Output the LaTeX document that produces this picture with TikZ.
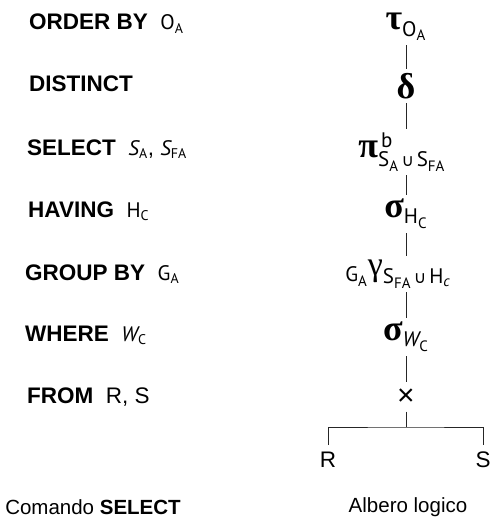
\documentclass[tikz,border=0pt]{standalone}
\usepackage{amsmath}
\usepackage{fontspec}
\setmainfont{Liberation Sans}
\newfontfamily\mf{PT Sans}
\newfontfamily\gkf{Liberation Serif}
\newfontfamily\djv{DejaVu Sans}
\newcommand\gk[1]{\text{\fontsize{36}{36}\selectfont\gkf\bfseries #1}}
\newcommand\gr[1]{\text{\fontsize{34}{34}\selectfont\gkf #1}}
\newcommand\sa[1]{\text{\fontsize{21}{21}\selectfont\mf #1}}
\newcommand\sbb[1]{\text{\fontsize{15}{15}\selectfont\mf #1}}
\newcommand\la[1]{\text{\fontsize{21}{21}\selectfont\mf #1}}
\newcommand\lb[1]{\text{\fontsize{14}{14}\selectfont\mf #1}}
\newcommand\un{\text{\fontsize{17}{17}\selectfont\djv ∪}}
\tikzset{
  lab/.style={anchor=base west, inner sep=0pt, font=\fontsize{22.5}{24}\selectfont\bfseries},
  op/.style={inner sep=2pt, font=\fontsize{24}{24}\selectfont},
  rel/.style={inner sep=4pt, font=\fontsize{22.5}{24}\selectfont},
  captxt/.style={inner sep=0pt, font=\fontsize{20.5}{22}\selectfont},
  conn/.style={line width=0.9pt, black!85, shorten <=2pt, shorten >=2pt}
}
\begin{document}
\begin{tikzpicture}[x=1pt,y=1pt]
\useasboundingbox (0,0) rectangle (496,-524);
% left column
\node[lab] (l1) at (29,-30) {ORDER BY\ \ {\mdseries$\la{O}_{\lb{A}}$}};
\node[lab] (l2) at (29,-92) {DISTINCT};
\node[lab] (l3) at (27,-155) {SELECT\ \ {\mdseries$\la{\itshape S}_{\lb{A}}$, $\la{\itshape S}_{\lb{FA}}$}};
\node[lab] (l4) at (28,-217) {HAVING\ \ {\mdseries$\la{H}_{\lb{C}}$}};
\node[lab] (l5) at (25,-280) {GROUP BY\ \ {\mdseries$\la{G}_{\lb{A}}$}};
\node[lab] (l6) at (25,-341) {WHERE\ \ {\mdseries$\la{\itshape W}_{\lb{C}}$}};
\node[lab] (l7) at (27,-403) {FROM\ \ {\mdseries R, S}};
\node[captxt] (c1) at (93,-507) {Comando \textbf{SELECT}};
% tree
\node[op] (t1) at (406,-27) {$\gk{τ}_{\sa{O}_{\sbb{A}}}$};
\node[op] (t2) at (406,-86) {$\gk{δ}$};
\node[op] (t3) at (402,-152) {$\gk{π}^{\,\sa{b}}_{\sa{S}_{\sbb{A}}\,\un\,\sa{S}_{\sbb{FA}}}$};
\node[op] (t4) at (406,-214) {$\gk{σ}_{\sa{H}_{\sbb{C}}}$};
\node[op] (t5) at (398,-274) {${}_{\sa{G}_{\sbb{A}}}\gr{γ}_{\sa{S}_{\sbb{FA}}\,\un\,\sa{H}_{\sbb{\itshape c}}}$};
\node[op] (t6) at (406,-337) {$\gk{σ}_{\sa{\itshape W}_{\sbb{C}}}$};
\node[rel, font=\fontsize{30}{30}\selectfont] (t7) at (406,-397) {×};
\coordinate (j) at (406,-427);
\node[rel] (r) at (328,-460) {R};
\node[rel] (s) at (483,-460) {S};
\node[captxt] (c2) at (408,-507) {Albero logico};
\draw[conn] (t1.south -| t2) -- (t2);
\draw[conn] (t2) -- (t2 |- t3.north);
\draw[conn] (t3.south -| t4) -- (t4);
\draw[conn] (t4) -- (t4 |- t5.north);
\draw[conn] (t4 |- t5.south) -- (t6);
\draw[conn] (t6) -- (t7);
\draw[conn, shorten >=0pt] (t7) -- (j);
\draw[line width=0.9pt, black!85, shorten <=3pt] (r.north) |- (j) -| ([yshift=3pt]s.north);
\end{tikzpicture}
\end{document}
